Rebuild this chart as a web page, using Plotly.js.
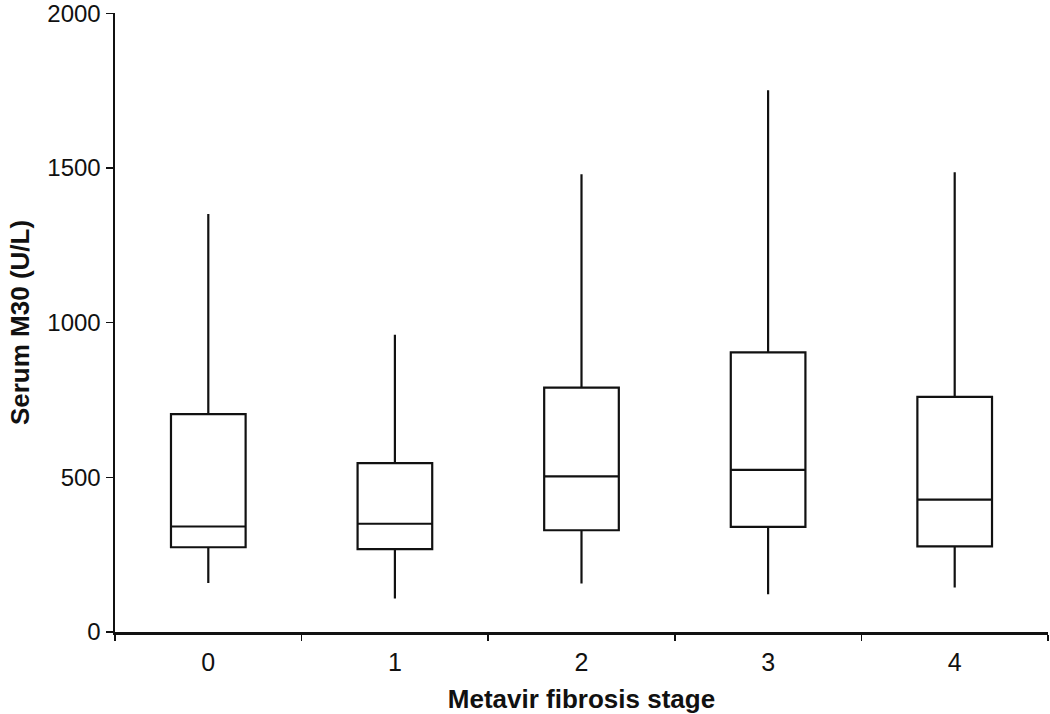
<!DOCTYPE html>
<html>
<head>
<meta charset="utf-8">
<script src="https://cdn.plot.ly/plotly-3.0.1.min.js"></script>
<style>
  html, body { margin: 0; padding: 0; background: #ffffff; }
  #chart { width: 1050px; height: 714px; }
</style>
</head>
<body>
<div id="chart"></div>
<script>
// Serum M30 by Metavir fibrosis stage
const stages = ['0', '1', '2', '3', '4'];
const lowerWhisker = [158, 108, 157, 122, 144];
const q1 = [274, 268, 329, 340, 277];
const median = [341, 350, 503, 524, 428];
const q3 = [704, 546, 790, 904, 760];
const upperWhisker = [1351, 961, 1480, 1751, 1486];
const yTicks = [0, 500, 1000, 1500, 2000];

const FONT = 'Liberation Sans, Arial, Helvetica, sans-serif';

const boxTrace = {
  type: 'box',
  x: stages,
  q1: q1,
  median: median,
  q3: q3,
  lowerfence: lowerWhisker,
  upperfence: upperWhisker,
  boxpoints: false,
  width: 0.4,
  whiskerwidth: 0,
  fillcolor: '#ffffff',
  line: { color: '#111111', width: 2.2 },
  hoverinfo: 'skip',
  showlegend: false,
};

const layout = {
  width: 1050,
  height: 714,
  paper_bgcolor: '#ffffff',
  plot_bgcolor: '#ffffff',
  margin: { t: 13, r: 2, b: 82, l: 115 },
  font: { family: FONT, color: '#111111' },
  showlegend: false,
  xaxis: {
    type: 'category',
    range: [-0.5, 4.5],
    tickson: 'boundaries',
    ticks: 'outside',
    ticklen: 6,
    tickwidth: 1.5,
    tickcolor: '#111111',
    ticklabelstandoff: 6,
    showline: true,
    linecolor: '#111111',
    linewidth: 2.5,
    showgrid: false,
    zeroline: false,
    tickfont: { size: 25, color: '#111111' },
    title: {
      text: 'Metavir fibrosis stage',
      font: { size: 26, color: '#111111', family: FONT, weight: 'bold' },
      standoff: 22,
    },
    automargin: false,
  },
  yaxis: {
    range: [0, 2001],
    tickvals: yTicks,
    ticks: 'outside',
    ticklen: 7,
    tickwidth: 1.5,
    tickcolor: '#111111',
    ticklabeloverflow: 'allow',
    showline: true,
    linecolor: '#111111',
    linewidth: 2.5,
    showgrid: false,
    zeroline: false,
    tickfont: { size: 24, color: '#111111' },
    title: {
      text: 'Serum M30 (U/L)',
      font: { size: 26, color: '#111111', family: FONT, weight: 'bold' },
      standoff: 10,
    },
    automargin: false,
  },
};

Plotly.newPlot('chart', [boxTrace], layout, { displayModeBar: false, staticPlot: true });
</script>
</body>
</html>
